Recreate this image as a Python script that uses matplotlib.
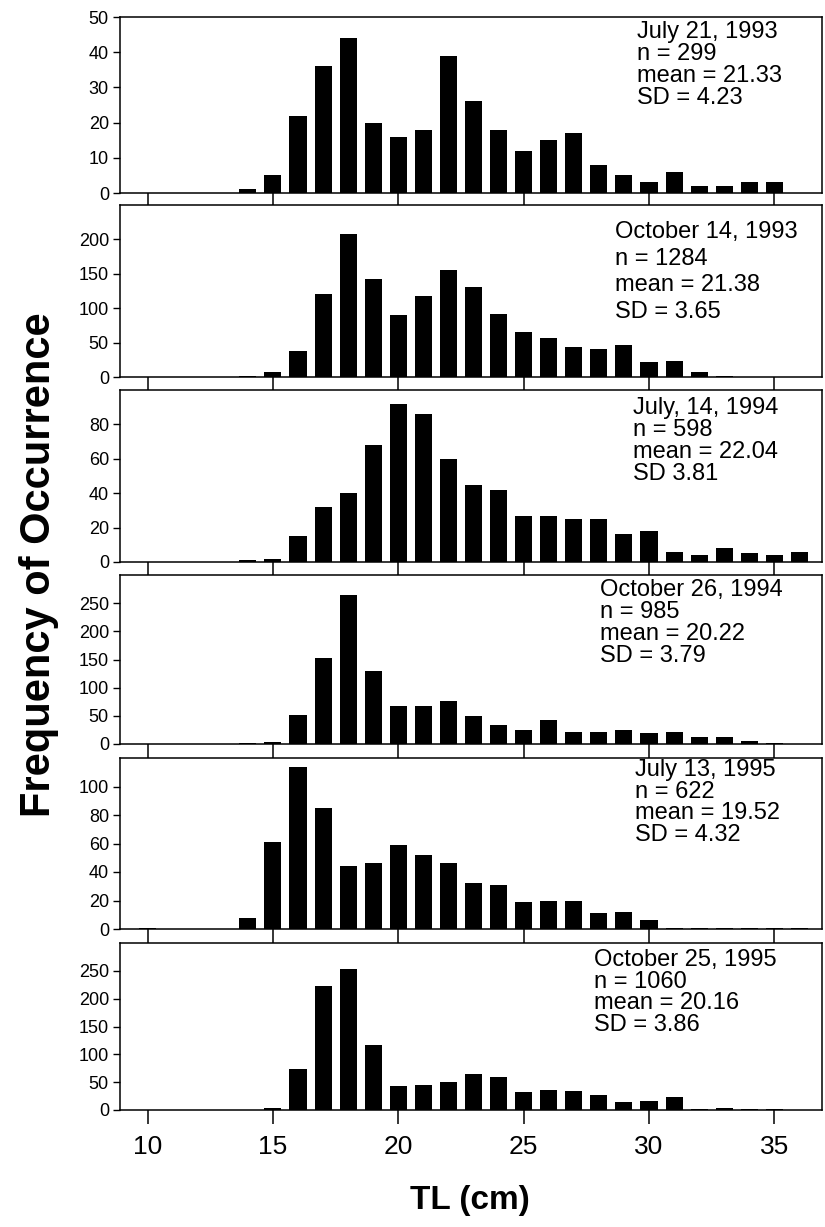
import numpy as np
import matplotlib.pyplot as plt

plt.rcParams['font.family'] = ['Liberation Sans', 'DejaVu Sans']

# 1-cm total length classes, 10 .. 36 cm
tl_cm = np.arange(10, 37)

jul93 = [0, 0, 0, 0, 1, 5, 22, 36, 44, 20, 16, 18, 39, 26, 18, 12, 15, 17, 8, 5, 3, 6, 2, 2, 3, 3, 0]
oct93 = [0, 0, 0, 0, 2, 7, 38, 120, 208, 143, 90, 118, 155, 131, 92, 65, 56, 44, 40, 46, 22, 23, 7, 2, 0, 0, 0]
jul94 = [0, 0, 0, 0, 1, 2, 15, 32, 40, 68, 92, 86, 60, 45, 42, 27, 27, 25, 25, 16, 18, 6, 4, 8, 5, 4, 6]
oct94 = [0, 0, 0, 0, 1, 3, 52, 152, 265, 130, 67, 67, 76, 50, 33, 25, 42, 21, 22, 24, 19, 21, 13, 12, 5, 2, 0]
jul95 = [1, 0, 0, 0, 8, 61, 114, 85, 44, 46, 59, 52, 46, 32, 31, 19, 20, 20, 11, 12, 6, 1, 1, 1, 1, 1, 1]
oct95 = [0, 0, 0, 0, 0, 3, 73, 222, 253, 117, 43, 45, 50, 65, 60, 33, 36, 34, 27, 14, 17, 23, 2, 3, 1, 1, 0]

samples = [jul93, oct93, jul94, oct94, jul95, oct95]

labels = [
    "July 21, 1993\nn = 299\nmean = 21.33\nSD = 4.23",
    "October 14, 1993\nn = 1284\nmean = 21.38\nSD = 3.65",
    "July, 14, 1994\nn = 598\nmean = 22.04\nSD 3.81",
    "October 26, 1994\nn = 985\nmean = 20.22\nSD = 3.79",
    "July 13, 1995\nn = 622\nmean = 19.52\nSD = 4.32",
    "October 25, 1995\nn = 1060\nmean = 20.16\nSD = 3.86",
]

y_max = [50, 250, 100, 300, 120, 300]
y_step = [10, 50, 20, 50, 20, 50]
y_top_tick = [50, 200, 80, 250, 100, 250]

W, H = 825, 1227
# panel boxes in pixels: (top, bottom)
boxes = [(17, 193), (205, 377), (390, 562), (575, 744), (758, 929), (943, 1110)]
left_px, right_px = 120, 822
# annotation anchor (x, y) in pixels and line spacing
text_pos = [(637, 21, 1.0), (615, 221, 1.27), (633, 397, 1.0),
            (600, 579, 1.0), (635, 759, 0.98), (594, 949, 0.98)]

fig = plt.figure(figsize=(W / 100, H / 100), dpi=100)

for i, counts in enumerate(samples):
    top, bot = boxes[i]
    ax = fig.add_axes([left_px / W, 1 - bot / H, (right_px - left_px) / W, (bot - top) / H])
    ax.bar(tl_cm, counts, width=0.68, color='black')
    ax.set_xlim(8.9, 36.9)
    ax.set_ylim(0, y_max[i])
    ax.set_yticks(np.arange(0, y_top_tick[i] + 1, y_step[i]))
    ax.set_xticks(np.arange(10, 36, 5))
    ax.tick_params(axis='x', direction='out', length=10, width=1.1)
    ax.tick_params(axis='y', direction='out', length=5, width=1.0, labelsize=13, pad=3)
    if i < len(samples) - 1:
        ax.set_xticklabels([])
    else:
        ax.tick_params(axis='x', labelsize=19, pad=8)
    for s in ax.spines.values():
        s.set_linewidth(1.1)
    tx, ty, ls = text_pos[i]
    fig.text(tx / W, 1 - ty / H, labels[i], fontsize=17, va='top', ha='left',
             linespacing=ls)

fig.text(39 / W, 1 - 565 / H, "Frequency of Occurrence", rotation=90, fontsize=30,
         fontweight='bold', ha='center', va='center')
fig.text(470 / W, 1 - 1200 / H, "TL (cm)", fontsize=24, fontweight='bold',
         ha='center', va='center')

fig.savefig("out.png", dpi=100)
